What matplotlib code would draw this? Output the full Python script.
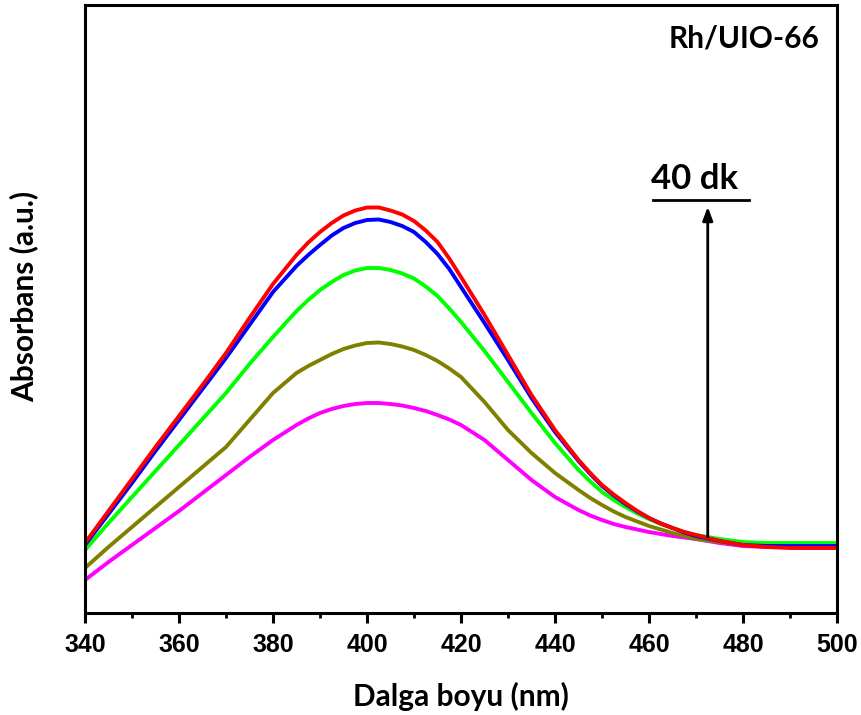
import matplotlib
matplotlib.use("Agg")
import matplotlib.pyplot as plt
from matplotlib.ticker import MultipleLocator

wavelength = [340, 345, 350, 355, 360, 365, 370, 375, 380, 385,
              387.5, 390, 392.5, 395, 397.5, 400, 402.5, 405, 407.5, 410, 412.5, 415, 417.5, 420,
              425, 430, 435, 440, 445,
              447.5, 450, 452.5, 455, 457.5, 460, 462.5, 465, 467.5, 470,
              475, 480, 485, 490, 495, 500]

red = [0.140, 0.204, 0.268, 0.332, 0.394, 0.456, 0.520, 0.590, 0.658, 0.716,
       0.741, 0.762, 0.780, 0.795, 0.805, 0.811, 0.811, 0.805, 0.797, 0.784, 0.765, 0.742, 0.709, 0.672,
       0.596, 0.516, 0.436, 0.366, 0.306,
       0.280, 0.256, 0.237, 0.220, 0.204, 0.190, 0.179, 0.170, 0.162, 0.156,
       0.144, 0.136, 0.132, 0.130, 0.130, 0.130]
blue = [0.136, 0.198, 0.260, 0.324, 0.386, 0.448, 0.510, 0.576, 0.642, 0.694,
        0.716, 0.736, 0.755, 0.770, 0.780, 0.786, 0.787, 0.782, 0.774, 0.762, 0.742, 0.718, 0.688, 0.652,
        0.580, 0.506, 0.430, 0.362, 0.304,
        0.278, 0.254, 0.235, 0.218, 0.203, 0.190, 0.179, 0.170, 0.161, 0.154,
        0.144, 0.136, 0.134, 0.134, 0.134, 0.134]
green = [0.126, 0.180, 0.232, 0.284, 0.336, 0.388, 0.440, 0.498, 0.552, 0.604,
         0.626, 0.646, 0.662, 0.676, 0.685, 0.690, 0.690, 0.686, 0.679, 0.669, 0.653, 0.634, 0.609, 0.582,
         0.524, 0.462, 0.400, 0.340, 0.286,
         0.263, 0.242, 0.226, 0.212, 0.199, 0.188, 0.178, 0.170, 0.162, 0.156,
         0.148, 0.142, 0.140, 0.140, 0.140, 0.140]
olive = [0.090, 0.132, 0.172, 0.212, 0.252, 0.292, 0.332, 0.386, 0.440, 0.480,
         0.494, 0.506, 0.518, 0.528, 0.535, 0.540, 0.541, 0.538, 0.533, 0.526, 0.516, 0.504, 0.489, 0.472,
         0.422, 0.366, 0.320, 0.280, 0.246,
         0.230, 0.216, 0.203, 0.192, 0.183, 0.174, 0.167, 0.160, 0.154, 0.148,
         0.142, 0.136, 0.134, 0.132, 0.130, 0.130]
magenta = [0.066, 0.102, 0.136, 0.170, 0.204, 0.240, 0.276, 0.312, 0.346, 0.376,
           0.389, 0.400, 0.408, 0.414, 0.418, 0.420, 0.420, 0.418, 0.415, 0.410, 0.404, 0.396, 0.387, 0.376,
           0.346, 0.306, 0.266, 0.232, 0.206,
           0.195, 0.186, 0.178, 0.172, 0.167, 0.162, 0.158, 0.154, 0.151, 0.148,
           0.140, 0.134, 0.132, 0.132, 0.130, 0.130]

series = [(magenta, "#ff00ff"), (olive, "#808000"), (green, "#00ff00"),
          (blue, "#0000ff"), (red, "#ff0000")]

xticks = [340, 360, 380, 400, 420, 440, 460, 480, 500]
sample_label = "Rh/UIO-66"
time_label = "40 dk"

label_font = ["Lato", "DejaVu Sans"]
tick_font = ["Liberation Sans", "DejaVu Sans"]

fig = plt.figure(figsize=(8.62, 7.15), dpi=100)
ax = fig.add_axes([85/862, 1 - 613/715, (837-85)/862, (613-5)/715])

for vals, col in series:
    ax.plot(wavelength, vals, color=col, lw=2.8, solid_capstyle="round",
            solid_joinstyle="round")

ax.set_xlim(340, 500)
ax.set_ylim(0, 1.216)
ax.set_xticks(xticks)
ax.xaxis.set_minor_locator(MultipleLocator(10))
ax.set_yticks([])
for s in ax.spines.values():
    s.set_linewidth(2.2)
ax.tick_params(axis="x", which="major", direction="out", length=7.5, width=2.2, pad=7)
ax.tick_params(axis="x", which="minor", direction="out", length=3.5, width=2.0)
for lbl in ax.get_xticklabels():
    lbl.set_fontfamily(tick_font)
    lbl.set_fontweight("bold")
    lbl.set_fontsize(18)

ax.set_xlabel("Dalga boyu (nm)", fontfamily=label_font, fontweight="bold",
              fontsize=21.5, labelpad=18)
ax.set_ylabel("Absorbans (a.u.)", fontfamily=label_font, fontweight="bold",
              fontsize=21.5)
ax.yaxis.set_label_coords(-0.062, 0.52)

ax.text(0.977, 0.945, sample_label, transform=ax.transAxes, ha="right", va="center",
        fontfamily=label_font, fontweight="bold", fontsize=21.5)

ax.annotate("", xy=(472.5, 0.818), xytext=(472.5, 0.146),
            arrowprops=dict(arrowstyle="-|>,head_length=0.8,head_width=0.3",
                            color="black", lw=2))
ax.plot([460.8, 481.2], [0.826, 0.826], color="black", lw=2)
ax.text(469.6, 0.848, time_label, ha="center", va="baseline",
        fontfamily=label_font, fontweight="bold", fontsize=25)

fig.savefig("out.png", dpi=100)
